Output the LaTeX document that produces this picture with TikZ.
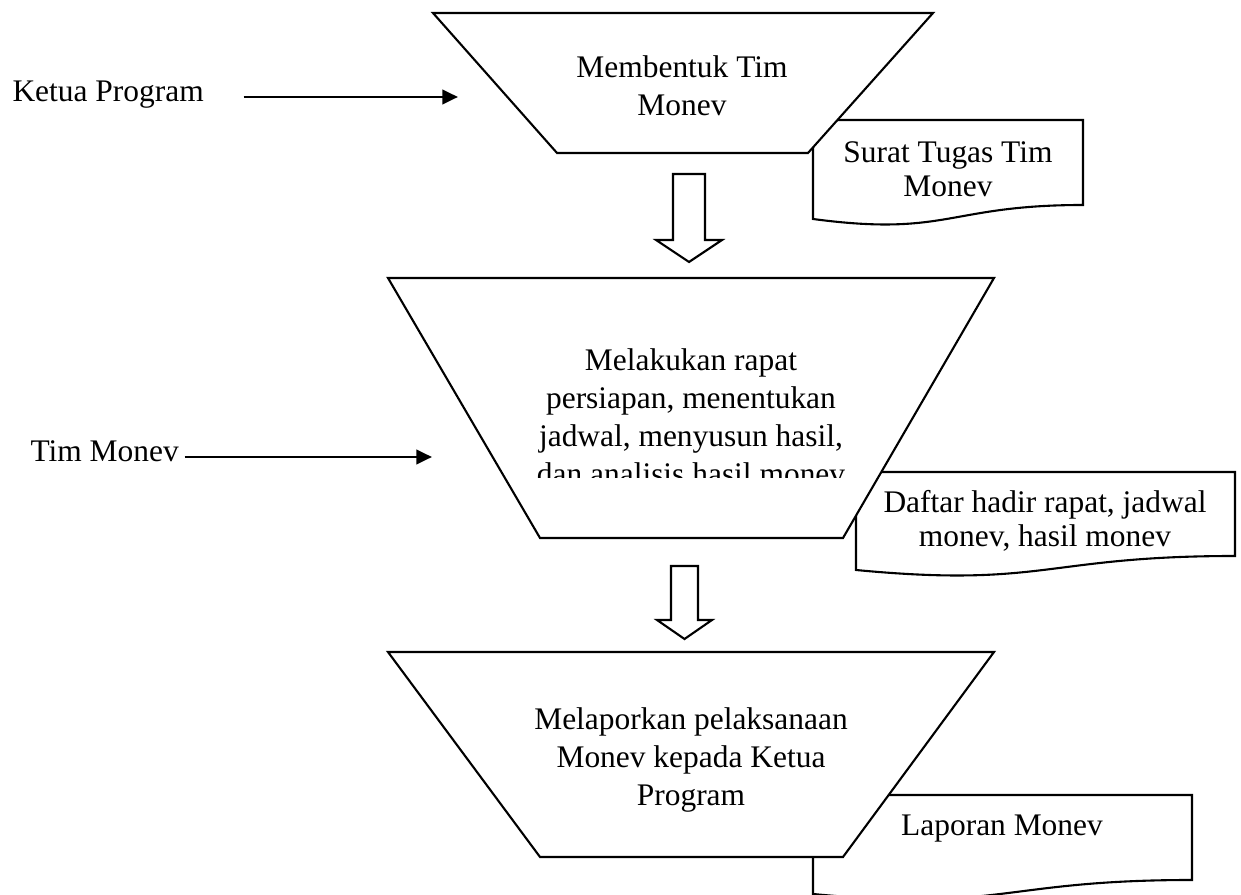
\documentclass[tikz,border=0pt]{standalone}
\usepackage{fontspec}
\setmainfont{Liberation Serif}
\usetikzlibrary{arrows.meta}

\begin{document}
\begin{tikzpicture}[
        x                       = 0.3817pt,
        y                       = -0.3817pt,
        font                    = \fontsize{12}{14.5}\selectfont,
        every node/.style       = {inner sep=0pt, align=center},
        proc/.style             = {draw, fill=white, line width=0.8pt},
        docu/.style             = {draw, fill=white, line width=0.8pt},
        bigarrow/.style         = {draw, fill=white, line width=0.8pt},
        flow/.style             = {-{Triangle[length=6pt,width=5.5pt]}, line width=1.1pt},
        doctext/.style          = {font=\fontsize{12}{13}\selectfont},
        %sloped
      ]
    \useasboundingbox (0,0) rectangle (1241,895);
    \clip (0,0) rectangle (1241,895);

    % documents (under the processes)
    \draw[docu] (813,120) -- (1083,120) -- (1083,205)
        .. controls (948,205) and (948,237) .. (813,219) -- cycle;
    \draw[docu] (856,472) -- (1235,472) -- (1235,556)
        .. controls (1045,556) and (1045,588) .. (856,570) -- cycle;
    \draw[docu] (813,795) -- (1192,795) -- (1192,880)
        .. controls (1002,880) and (1002,912) .. (813,894) -- cycle;

    % processes
    \draw[proc] (433,13) -- (933,13) -- (808,153) -- (557,153) -- cycle;
    \draw[proc] (388,278) -- (994,278) -- (843,538) -- (540,538) -- cycle;
    \draw[proc] (388,652) -- (994,652) -- (843,857) -- (540,857) -- cycle;

    % block arrows
    \draw[bigarrow] (673,174) -- (705,174) -- (705,240) -- (722,240)
        -- (689,262) -- (656,240) -- (673,240) -- cycle;
    \draw[bigarrow] (671,566) -- (698,566) -- (698,620) -- (712,620)
        -- (684.5,639) -- (657,620) -- (671,620) -- cycle;

    % texts
    \node (membentuk) at (682,86) {Membentuk Tim\\Monev};
    \begin{scope}
        \clip (388,278) rectangle (994,478);
        \node (rapat) at (691,417) {Melakukan rapat\\persiapan, menentukan\\jadwal, menyusun hasil,\\dan analisis hasil monev};
    \end{scope}
    \node (lapor) at (691,760) {Melaporkan pelaksanaan\\Monev kepada Ketua\\Program};

    \node[doctext] (surat) at (948,169) {Surat Tugas Tim\\Monev};
    \node[doctext] (daftar) at (1045,521) {Daftar hadir rapat, jadwal\\monev, hasil monev};
    \node[doctext] (laporan) at (1002,829) {Laporan Monev};

    % actors
    \node[anchor=base west] (kp) at (12,102) {Ketua Program};
    \node[anchor=base west] (tm) at (30,462) {Tim Monev};
    \coordinate (kpend) at (458,97);
    \coordinate (tmend) at (432,457);

    \draw[flow, shorten <=15pt] (kp.east |- kpend) -- (kpend);
    \draw[flow, shorten <=2pt] (tm.east |- tmend) -- (tmend);
\end{tikzpicture}
\end{document}
